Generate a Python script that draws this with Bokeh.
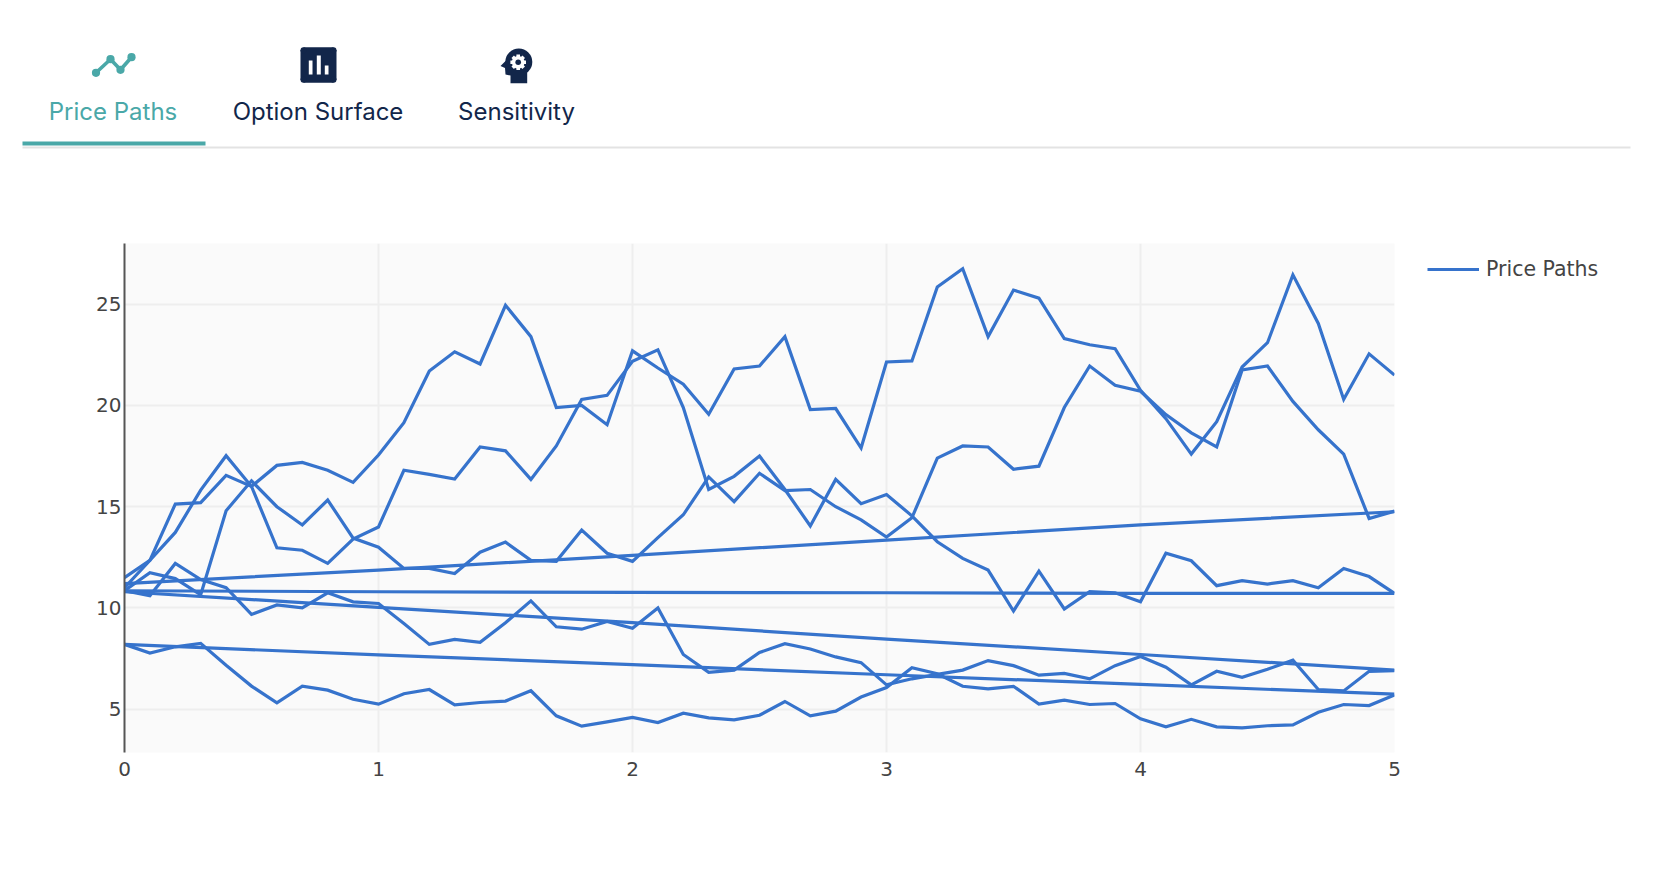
from bokeh.embed import file_html
from bokeh.resources import INLINE
from bokeh.layouts import column, row
from bokeh.models import Range1d, Legend, LegendItem, FixedTicker
from bokeh.plotting import figure

# ---------- chart data ----------
time_grid = [0.0,0.1,0.2,0.3,0.4,0.5,0.6,0.7,0.8,0.9,
             1.0,1.1,1.2,1.3,1.4,1.5,1.6,1.7,1.8,1.9,
             2.0,2.1,2.2,2.3,2.4,2.5,2.6,2.7,2.8,2.9,
             3.0,3.1,3.2,3.3,3.4,3.5,3.6,3.7,3.8,3.9,
             4.0,4.1,4.2,4.3,4.4,4.5,4.6,4.7,4.8,4.9,5.0]
path_1 = [11.0,12.35,15.13,15.2,16.55,16.0,17.04,17.19,16.8,16.2,
          17.55,19.15,21.7,22.65,22.05,24.95,23.4,19.9,20.0,19.05,
          22.7,21.85,21.05,19.57,21.8,21.95,23.4,19.8,19.85,17.9,
          22.15,22.2,25.85,26.75,23.4,25.7,25.3,23.3,23.0,22.8,
          20.75,19.35,17.6,19.2,21.9,23.1,26.45,24.05,20.3,22.55,21.5]
path_2 = [11.5,12.35,13.73,15.82,17.52,16.0,12.97,12.85,12.2,13.4,
          14.0,16.8,16.6,16.37,17.95,17.76,16.35,18.0,20.3,20.5,
          22.18,22.75,19.9,15.85,16.5,17.5,15.85,14.05,16.35,15.15,
          15.6,14.55,13.27,12.45,11.87,9.85,11.82,9.95,10.8,10.75,
          10.3,12.7,12.33,11.1,11.35,11.18,11.35,11.0,11.95,11.55,10.72]
path_3 = [10.85,11.74,11.45,10.65,14.8,16.28,15.0,14.1,15.33,13.45,
          13.0,11.95,11.95,11.7,12.75,13.25,12.35,12.3,13.85,12.7,
          12.3,13.47,14.6,16.47,15.25,16.65,15.8,15.85,15.0,14.35,
          13.5,14.45,17.4,18.0,17.95,16.85,17.0,19.9,21.95,21.0,
          20.7,19.55,18.65,17.95,21.75,21.95,20.2,18.8,17.6,14.42,14.78]
path_4 = [10.85,10.6,12.2,11.4,11.0,9.68,10.15,10.0,10.75,10.3,
          10.22,9.23,8.2,8.45,8.3,9.27,10.35,9.07,8.95,9.33,
          9.0,10.0,7.7,6.82,6.93,7.8,8.23,7.97,7.58,7.3,
          6.2,6.5,6.72,6.93,7.4,7.15,6.68,6.77,6.5,7.15,
          7.6,7.07,6.2,6.87,6.57,6.97,7.42,5.97,5.9,6.87,6.9]
path_5 = [8.2,7.77,8.08,8.25,7.17,6.14,5.31,6.14,5.94,5.49,
          5.25,5.76,5.97,5.21,5.33,5.4,5.91,4.67,4.16,4.37,
          4.59,4.34,4.8,4.57,4.47,4.7,5.38,4.67,4.9,5.6,
          6.07,7.05,6.75,6.13,6.0,6.13,5.25,5.45,5.23,5.28,
          4.52,4.13,4.5,4.13,4.08,4.18,4.22,4.85,5.23,5.18,5.7]
coarse_grid = [0,1,2,3,4,5]
path_6 = [11.2,11.87,12.6,13.35,14.1,14.75]
path_7 = [10.85,10.8,10.77,10.75,10.72,10.72]
path_8 = [10.8,10.03,9.27,8.46,7.7,6.93]
path_9 = [8.2,7.68,7.2,6.7,6.22,5.74]
x_ticks = [0,1,2,3,4,5]
y_ticks = [5,10,15,20,25]
series_name = "Price Paths"
tab_labels = ["Price Paths","Option Surface","Sensitivity"]

# ---------- styles ----------
LINE = "#3673cc"
TEAL = "#4aa8a8"
NAVY = "#12264a"
TXT = "#444444"
FONT = "DejaVu Sans"

# ---------- tab bar (coordinates are page pixels) ----------
tabs = figure(width=1650, height=150, x_range=Range1d(0,1650), y_range=Range1d(150,0),
              x_axis_type=None, y_axis_type=None, toolbar_location=None,
              output_backend="svg", min_border=0, outline_line_color=None)
tabs.frame_align = False
tabs.grid.visible = False

tabs.text(x=[112.5,317.5,516], y=[110.5,110.5,110.5], text=tab_labels,
          text_color=[TEAL,NAVY,NAVY], text_font={"value":"Inter"},
          text_font_size="24px", text_align="center", text_baseline="middle")
tabs.quad(left=[22], right=[1630], top=[146], bottom=[148], fill_color="#e3e3e3", line_color=None)
tabs.quad(left=[22], right=[205], top=[141], bottom=[145], fill_color=TEAL, line_color=None)

# line icon
ix, iy = [95.5,110,120,131], [72.3,58.7,69.3,56.7]
tabs.line(ix, iy, line_color=TEAL, line_width=3.6)
tabs.circle(ix, iy, radius=4.1, fill_color=TEAL, line_color=None)

# bar icon
tabs.quad(left=[300,303], right=[336,333], top=[49.5,46.7], bottom=[79.5,82.3], fill_color=NAVY, line_color=None)
tabs.circle([303,333,303,333],[49.7,49.7,79.3,79.3], radius=3, fill_color=NAVY, line_color=None)
tabs.quad(left=[308.3,316.3,324.3], right=[312,320.3,328], top=[60,55,65], bottom=[74,74,74],
          fill_color="white", line_color=None)

# head icon
tabs.circle([518.3],[61.5], radius=13.5, fill_color=NAVY, line_color=None)
tabs.patch([505.5,500,504.5,505,510,510,526.7,526.7,530,510],
           [60,65.5,67.5,74,75,82.7,82.7,70,60,55], fill_color=NAVY, line_color=None)
tabs.circle([517.7],[61.7], radius=6.3, fill_color="white", line_color=None)
tabs.rect(x=[517.7]*4, y=[61.7]*4, width=[3.6]*4, height=[15.6]*4,
          angle=[0,0.785,1.571,2.356], fill_color="white", line_color=None)
tabs.circle([517.7],[61.7], radius=2.8, fill_color=NAVY, line_color=None)

# ---------- chart ----------
p = figure(width=1414, height=720, x_range=Range1d(0,5), y_range=Range1d(2.86,28.0),
           toolbar_location=None, output_backend="svg",
           min_border_top=93, min_border_bottom=118, min_border_left=124, min_border_right=20,
           background_fill_color="#fafafa", outline_line_color=None)
p.frame_align = False

for xs, ys in [(time_grid,path_1),(time_grid,path_2),(time_grid,path_3),(time_grid,path_4),(time_grid,path_5),
               (coarse_grid,path_6),(coarse_grid,path_7),(coarse_grid,path_8),(coarse_grid,path_9)]:
    p.line(xs, ys, line_color=LINE, line_width=3.2, line_join="miter")

p.xaxis.ticker = FixedTicker(ticks=x_ticks)
p.yaxis.ticker = FixedTicker(ticks=y_ticks)
for ax in (p.xaxis[0], p.yaxis[0]):
    ax.major_tick_line_color = None
    ax.minor_tick_line_color = None
    ax.major_tick_out = 0
    ax.major_label_text_font = FONT
    ax.major_label_text_font_size = "20px"
    ax.major_label_text_color = TXT
p.xaxis.axis_line_color = None
p.yaxis.axis_line_color = "#555555"
p.yaxis.axis_line_width = 2
p.xaxis.major_label_standoff = 9
p.yaxis.major_label_standoff = 3
p.xgrid.grid_line_color = "#eeeeee"
p.ygrid.grid_line_color = "#eeeeee"
p.xgrid.grid_line_width = 2
p.ygrid.grid_line_width = 2

# ---------- legend (own panel to the right of the plot; its line lies off-range) ----------
side = figure(width=236, height=720, x_range=Range1d(100,101), y_range=Range1d(100,101),
              x_axis_type=None, y_axis_type=None, toolbar_location=None,
              output_backend="svg", min_border=0, outline_line_color=None)
side.frame_align = False
side.grid.visible = False
key = side.line(time_grid, path_1, line_color=LINE, line_width=3.2)
legend = Legend(items=[LegendItem(label=series_name, renderers=[key])],
                location=(13,589), orientation="vertical",
                background_fill_alpha=0, border_line_color=None,
                glyph_width=52, glyph_height=20, label_standoff=7, padding=0, margin=0,
                label_text_font=FONT, label_text_font_size="20.5px", label_text_color=TXT)
side.add_layout(legend, "center")

page = column(tabs, row(p, side, spacing=0), spacing=0)
open("out.html","w").write(file_html(page, INLINE))
